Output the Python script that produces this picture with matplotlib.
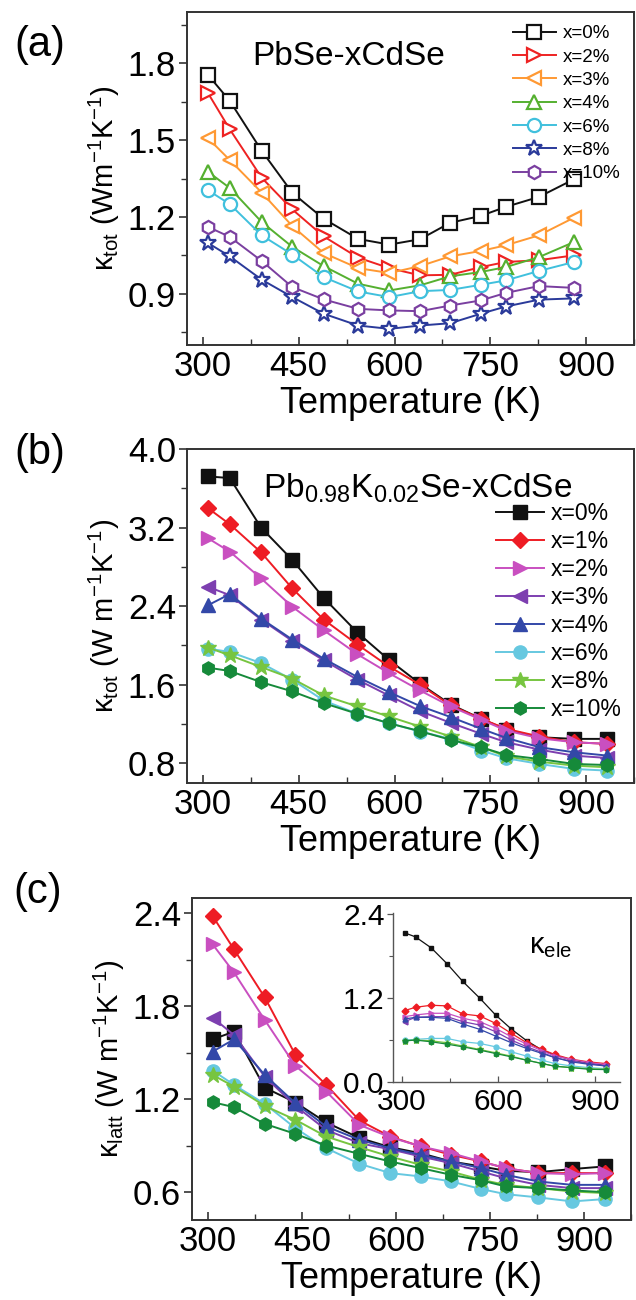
import numpy as np
import matplotlib
matplotlib.use('Agg')
import matplotlib.pyplot as plt
from matplotlib.ticker import MultipleLocator

plt.rcParams['font.family'] = ['Liberation Sans', 'DejaVu Sans']
plt.rcParams['mathtext.fontset'] = 'custom'
plt.rcParams['mathtext.rm'] = 'Liberation Sans'
plt.rcParams['mathtext.it'] = 'Liberation Sans'
plt.rcParams['mathtext.default'] = 'regular'

# ---- data (a) PbSe-xCdSe ----
T_a = [308, 342, 392, 440, 489, 543, 592, 640, 687, 735, 774, 826, 881]
labels_a = ['x=0%', 'x=2%', 'x=3%', 'x=4%', 'x=6%', 'x=8%', 'x=10%']
ka_0 = [1.754, 1.653, 1.458, 1.294, 1.193, 1.114, 1.092, 1.113, 1.177, 1.204, 1.239, 1.278, 1.347]
ka_2 = [1.683, 1.542, 1.353, 1.229, 1.124, 1.041, 1.000, 0.972, 0.974, 1.004, 1.024, 1.031, 1.050]
ka_3 = [1.507, 1.422, 1.295, 1.164, 1.059, 1.000, 0.981, 1.008, 1.046, 1.067, 1.089, 1.128, 1.197]
ka_4 = [1.376, 1.313, 1.180, 1.083, 1.008, 0.939, 0.913, 0.933, 0.968, 0.985, 1.004, 1.043, 1.102]
ka_6 = [1.304, 1.250, 1.128, 1.053, 0.965, 0.909, 0.887, 0.910, 0.915, 0.935, 0.952, 0.989, 1.024]
ka_8 = [1.098, 1.046, 0.955, 0.887, 0.822, 0.776, 0.763, 0.776, 0.785, 0.822, 0.850, 0.877, 0.882]
ka_10 = [1.161, 1.122, 1.028, 0.926, 0.878, 0.841, 0.835, 0.832, 0.854, 0.874, 0.903, 0.930, 0.923]

# ---- data (b),(c) Pb0.98K0.02Se-xCdSe ----
T_b = [308, 342, 391, 440, 489, 542, 591, 640, 688, 736, 775, 827, 881, 933]
labels_b = ['x=0%', 'x=1%', 'x=2%', 'x=3%', 'x=4%', 'x=6%', 'x=8%', 'x=10%']
kb_0 = [3.721, 3.704, 3.200, 2.870, 2.485, 2.131, 1.855, 1.610, 1.399, 1.253, 1.144, 1.066, 1.049, 1.049]
kb_1 = [3.397, 3.234, 2.948, 2.580, 2.264, 2.009, 1.787, 1.600, 1.389, 1.253, 1.151, 1.073, 1.015, 0.998]
kb_2 = [3.091, 2.955, 2.683, 2.394, 2.155, 1.910, 1.719, 1.542, 1.379, 1.243, 1.134, 1.055, 1.015, 0.998]
kb_3 = [2.597, 2.512, 2.264, 2.046, 1.849, 1.651, 1.491, 1.332, 1.212, 1.100, 1.015, 0.940, 0.878, 0.855]
kb_4 = [2.410, 2.523, 2.274, 2.060, 1.866, 1.679, 1.526, 1.383, 1.271, 1.151, 1.059, 0.964, 0.913, 0.879]
kb_6 = [1.968, 1.934, 1.821, 1.651, 1.440, 1.304, 1.209, 1.124, 1.049, 0.930, 0.852, 0.794, 0.743, 0.726]
kb_8 = [1.978, 1.900, 1.781, 1.662, 1.491, 1.379, 1.277, 1.174, 1.073, 0.964, 0.872, 0.817, 0.777, 0.760]
kb_10 = [1.774, 1.740, 1.627, 1.532, 1.413, 1.304, 1.209, 1.127, 1.039, 0.964, 0.885, 0.844, 0.794, 0.783]

# lattice thermal conductivity (c)
kl_0 = [1.587, 1.637, 1.275, 1.179, 1.050, 0.950, 0.890, 0.851, 0.798, 0.766, 0.738, 0.729, 0.749, 0.766]
kl_1 = [2.383, 2.168, 1.858, 1.486, 1.293, 1.063, 0.959, 0.895, 0.841, 0.798, 0.755, 0.723, 0.723, 0.723]
kl_2 = [2.200, 2.019, 1.712, 1.415, 1.250, 1.034, 0.955, 0.895, 0.852, 0.798, 0.755, 0.723, 0.716, 0.723]
kl_3 = [1.727, 1.615, 1.346, 1.157, 1.002, 0.916, 0.877, 0.830, 0.787, 0.733, 0.690, 0.647, 0.626, 0.626]
kl_4 = [1.508, 1.587, 1.357, 1.174, 1.024, 0.938, 0.884, 0.841, 0.798, 0.755, 0.712, 0.669, 0.647, 0.647]
kl_6 = [1.385, 1.293, 1.170, 1.013, 0.884, 0.783, 0.723, 0.701, 0.669, 0.620, 0.587, 0.566, 0.540, 0.555]
kl_8 = [1.357, 1.282, 1.157, 1.067, 0.959, 0.890, 0.830, 0.776, 0.733, 0.680, 0.647, 0.626, 0.604, 0.594]
kl_10 = [1.181, 1.149, 1.041, 0.976, 0.901, 0.847, 0.798, 0.755, 0.712, 0.676, 0.637, 0.626, 0.611, 0.600]

# electronic thermal conductivity (inset)
ke_0 = [2.136, 2.078, 1.920, 1.694, 1.440, 1.200, 0.960, 0.758, 0.590, 0.456, 0.384, 0.317, 0.269, 0.240]
ke_1 = [1.022, 1.070, 1.099, 1.090, 0.974, 0.946, 0.840, 0.696, 0.562, 0.466, 0.394, 0.326, 0.288, 0.264]
ke_2 = [0.936, 0.960, 0.984, 0.984, 0.912, 0.864, 0.768, 0.648, 0.542, 0.446, 0.374, 0.322, 0.278, 0.250]
ke_3 = [0.864, 0.926, 0.936, 0.936, 0.864, 0.816, 0.720, 0.600, 0.504, 0.422, 0.350, 0.298, 0.264, 0.230]
ke_4 = [0.902, 0.926, 0.926, 0.912, 0.830, 0.754, 0.658, 0.562, 0.480, 0.408, 0.350, 0.288, 0.254, 0.230]
ke_6 = [0.600, 0.610, 0.624, 0.624, 0.576, 0.552, 0.504, 0.432, 0.370, 0.312, 0.264, 0.230, 0.206, 0.192]
ke_8 = [0.590, 0.600, 0.590, 0.562, 0.514, 0.466, 0.418, 0.370, 0.312, 0.264, 0.226, 0.206, 0.192, 0.182]
ke_10 = [0.590, 0.600, 0.576, 0.542, 0.504, 0.456, 0.408, 0.360, 0.312, 0.264, 0.226, 0.206, 0.182, 0.178]

colors_a = ['#111111', '#ee2222', '#ff9933', '#55b030', '#40c0dd', '#2a3a9a', '#7a3fa0']
markers_a = ['s', '>', '<', '^', 'o', '*', 'h']
colors_b = ['#111111', '#ee1c24', '#c94fc0', '#7d3fb0', '#3348a8', '#66c8e0', '#77c540', '#168a3a']
markers_b = ['s', 'D', '>', '<', '^', 'o', '*', 'h']

SPINE = '#333333'
TICK_FS = 25
LAB_FS = 26


def style_axis(ax, ymajor, yminor, xlim, ylim):
    ax.set_xlim(*xlim)
    ax.set_ylim(*ylim)
    ax.xaxis.set_major_locator(MultipleLocator(150))
    ax.xaxis.set_minor_locator(MultipleLocator(75))
    ax.yaxis.set_major_locator(MultipleLocator(ymajor))
    ax.yaxis.set_minor_locator(MultipleLocator(yminor))
    for s in ax.spines.values():
        s.set_color(SPINE)
        s.set_linewidth(1.4)
    ax.tick_params(axis='x', which='both', direction='in', top=False, labelsize=TICK_FS, color=SPINE)
    ax.tick_params(axis='y', which='both', direction='out', right=False, labelsize=TICK_FS, color=SPINE, pad=2)
    ax.tick_params(which='major', length=6, width=1.2)
    ax.tick_params(which='minor', length=4, width=1.0)


W, H = 636, 1300
fig = plt.figure(figsize=(W / 100, H / 100), dpi=100)


def box(l, t, r, b):
    return [l / W, 1 - b / H, (r - l) / W, (b - t) / H]


# ---- (a) ----
ax = fig.add_axes(box(187, 12, 634, 345))
series_a = [ka_0, ka_2, ka_3, ka_4, ka_6, ka_8, ka_10]
for y, c, m, lab in zip(series_a, colors_a, markers_a, labels_a):
    ms = 12 if m == '*' else 9.5
    ax.plot(T_a, y, color=c, marker=m, ms=ms, mfc='white', mec=c, mew=1.6, lw=1.4, label=lab)
style_axis(ax, 0.3, 0.15, (275, 975), (0.7, 2.0))
ax.set_xlabel('Temperature (K)', fontsize=LAB_FS, labelpad=2)
ax.set_ylabel(r'κ$_{tot}$ (Wm$^{-1}$K$^{-1}$)', fontsize=21, labelpad=4)
ax.text(0.145, 0.84, 'PbSe-xCdSe', transform=ax.transAxes, fontsize=24)
ax.legend(loc='upper right', bbox_to_anchor=(1.0, 1.0), frameon=False, fontsize=13.5,
          handlelength=2.3, handletextpad=0.4, labelspacing=0.33, borderaxespad=0.3)
fig.text(40 / W, 1 - 45 / H, '(a)', fontsize=30, ha='center', va='center')

# ---- (b) ----
ax = fig.add_axes(box(187, 449, 634, 783))
series_b = [kb_0, kb_1, kb_2, kb_3, kb_4, kb_6, kb_8, kb_10]
for y, c, m, lab in zip(series_b, colors_b, markers_b, labels_b):
    ms = 12 if m == '*' else (8 if m == 'D' else 9.5)
    ax.plot(T_b, y, color=c, marker=m, ms=ms, mfc=c, mec=c, lw=1.4, label=lab)
style_axis(ax, 0.8, 0.4, (275, 975), (0.6, 4.0))
ax.set_xlabel('Temperature (K)', fontsize=LAB_FS, labelpad=2)
ax.set_ylabel(r'κ$_{tot}$ (W m$^{-1}$K$^{-1}$)', fontsize=21, labelpad=4)
ax.text(0.17, 0.855, r'Pb$_{0.98}$K$_{0.02}$Se-xCdSe', transform=ax.transAxes, fontsize=24)
ax.legend(loc='upper right', bbox_to_anchor=(1.0, 0.88), frameon=False, fontsize=16.5,
          handlelength=2.1, handletextpad=0.28, labelspacing=0.22, borderaxespad=0.15)
fig.text(40 / W, 1 - 453 / H, '(b)', fontsize=30, ha='center', va='center')

# ---- (c) ----
ax = fig.add_axes(box(192, 898, 631, 1220))
series_c = [kl_0, kl_1, kl_2, kl_3, kl_4, kl_6, kl_8, kl_10]
for y, c, m in zip(series_c, colors_b, markers_b):
    ms = 12 if m == '*' else (8 if m == 'D' else 9.5)
    ax.plot(T_b, y, color=c, marker=m, ms=ms, mfc=c, mec=c, lw=1.4)
style_axis(ax, 0.6, 0.3, (275, 975), (0.42, 2.5))
ax.set_xlabel('Temperature (K)', fontsize=LAB_FS, labelpad=2)
ax.set_ylabel(r'κ$_{latt}$ (W m$^{-1}$K$^{-1}$)', fontsize=21, labelpad=4)
fig.text(38 / W, 1 - 892 / H, '(c)', fontsize=30, ha='center', va='center')

# ---- inset: electronic part ----
ins = fig.add_axes(box(393, 913, 620, 1082))
series_e = [ke_0, ke_1, ke_2, ke_3, ke_4, ke_6, ke_8, ke_10]
for y, c, m in zip(series_e, colors_b, markers_b):
    ms = 5 if m == '*' else 3.5
    ins.plot(T_b, y, color=c, marker=m, ms=ms, mfc=c, mec=c, lw=0.9)
ins.set_xlim(272, 978)
ins.set_ylim(0, 2.42)
ins.xaxis.set_major_locator(MultipleLocator(300))
ins.xaxis.set_minor_locator(MultipleLocator(150))
ins.yaxis.set_major_locator(MultipleLocator(1.2))
ins.yaxis.set_minor_locator(MultipleLocator(0.6))
ins.spines['top'].set_visible(False)
ins.spines['right'].set_visible(False)
for s in ['left', 'bottom']:
    ins.spines[s].set_color('#555555')
    ins.spines[s].set_linewidth(1.0)
ins.tick_params(axis='x', which='both', direction='in', labelsize=21.5, pad=4, color='#555555')
ins.tick_params(axis='y', which='both', direction='out', labelsize=21.5, pad=2, color='#555555')
ins.tick_params(which='major', length=4, width=0.9)
ins.tick_params(which='minor', length=3, width=0.8)
ins.patch.set_alpha(0)
ins.text(0.6, 0.76, r'κ$_{ele}$', transform=ins.transAxes, fontsize=21)

fig.savefig('out.png', dpi=100)
